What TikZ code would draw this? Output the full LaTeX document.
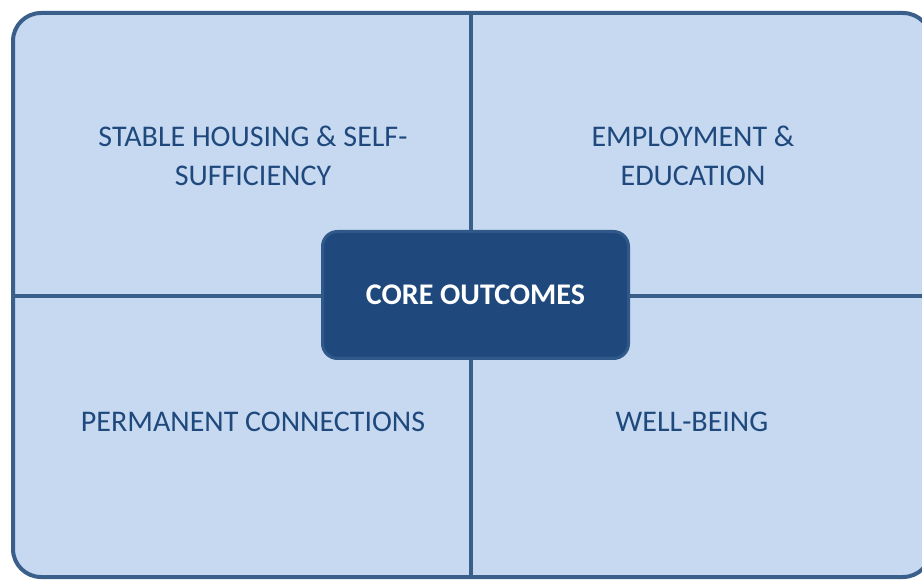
\documentclass[tikz,border=0pt]{standalone}
\usepackage{fontspec}
\setmainfont{Carlito}
\definecolor{panelfill}{HTML}{C6D9F1}
\definecolor{panelline}{HTML}{3A5F8B}
\definecolor{corefill}{HTML}{1F497D}
\definecolor{coreline}{HTML}{30598A}
\definecolor{labeltext}{HTML}{1F497D}
\tikzset{
  panel/.style={draw=panelline, fill=panelfill, line width=4pt, rounded corners=28pt},
  divider/.style={draw=panelline, line width=4pt},
  corebox/.style={draw=coreline, fill=corefill, line width=3pt, rounded corners=15pt,
    minimum width=306pt, minimum height=127pt, text=white,
    font=\fontsize{30}{36}\selectfont\bfseries},
  quadlabel/.style={text=labeltext, align=center, inner sep=0pt,
    font=\fontsize{30}{39}\selectfont}
}
\begin{document}
\begin{tikzpicture}[x=1pt,y=-1pt]
\useasboundingbox (0,0) rectangle (922,580);
\clip (0,0) rectangle (922,580);
\path[panel] (13,13) rectangle (931,577);
\coordinate (top) at (471,13);
\coordinate (bottom) at (471,577);
\coordinate (left) at (13,296);
\coordinate (right) at (931,296);
\node[corebox] (core) at (475.5,295) {CORE OUTCOMES};
\draw[divider] (top) -- (core.north -| top);
\draw[divider] (core.south -| bottom) -- (bottom);
\draw[divider] (left) -- (core.west |- left);
\draw[divider] (core.east |- right) -- (right);
\node[quadlabel] (housing) at (253,156) {STABLE HOUSING \& SELF-\\SUFFICIENCY};
\node[quadlabel] (employ) at (693,156) {EMPLOYMENT \&\\EDUCATION};
\node[quadlabel] (perm) at (253,422) {PERMANENT CONNECTIONS};
\node[quadlabel] (well) at (692,422) {WELL-BEING};
\end{tikzpicture}
\end{document}
